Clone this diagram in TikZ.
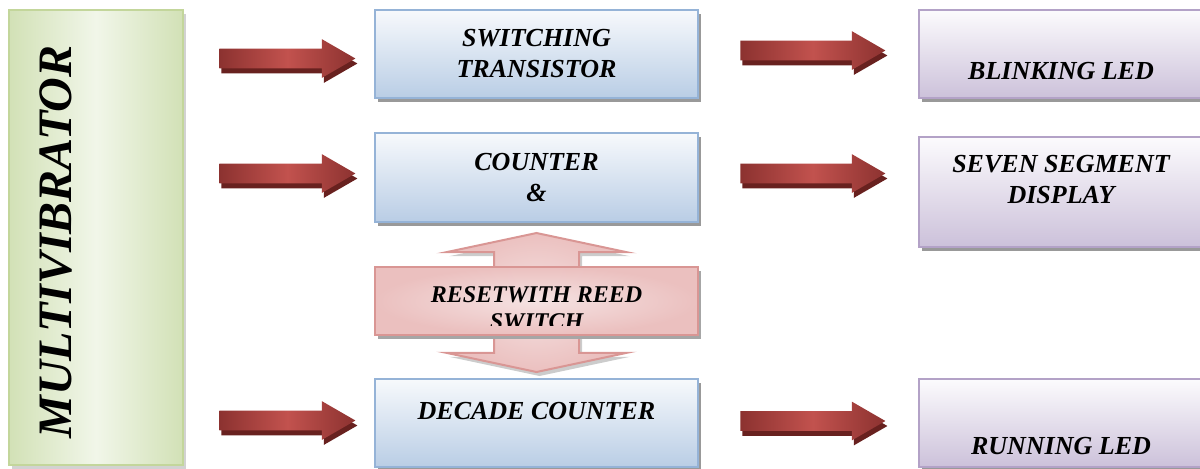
\documentclass[tikz,border=0pt]{standalone}
\usepackage{fontspec}
\setmainfont{Liberation Serif}
\usetikzlibrary{shapes.arrows,shadows}
\definecolor{blueedge}{RGB}{149,179,215}
\definecolor{bluetop}{RGB}{247,249,252}
\definecolor{bluebot}{RGB}{185,205,229}
\definecolor{lilacedge}{RGB}{179,162,199}
\definecolor{lilactop}{RGB}{252,251,253}
\definecolor{lilacbot}{RGB}{204,193,218}
\definecolor{greenedge}{RGB}{195,214,155}
\definecolor{greenlight}{RGB}{241,246,233}
\definecolor{greendark}{RGB}{210,225,182}
\definecolor{arrowdark}{RGB}{140,50,48}
\definecolor{arrowlight}{RGB}{194,82,78}
\definecolor{arrowshade}{RGB}{104,33,31}
\definecolor{pinkedge}{RGB}{217,150,148}
\definecolor{pinklight}{RGB}{245,226,226}
\definecolor{pinkdark}{RGB}{235,192,191}
\tikzset{
  boxshadow/.style={drop shadow={shadow xshift=1.5pt,shadow yshift=-2pt,fill=#1,opacity=1}},
  bluebox/.style={rectangle,draw=blueedge,line width=1pt,top color=bluetop,bottom color=bluebot,
    minimum width=161.5pt,boxshadow=gray!80},
  lilacbox/.style={rectangle,draw=lilacedge,line width=1pt,top color=lilactop,bottom color=lilacbot,
    minimum width=142pt,boxshadow=gray!80},
  greenbox/.style={rectangle,draw=greenedge,line width=1pt,left color=greendark,right color=greendark,
    middle color=greenlight,minimum width=87pt,minimum height=227.5pt,boxshadow=gray!35},
  boxtext/.style={font=\bfseries\itshape\fontsize{13}{15.5}\selectfont,align=center},
  fatarrow/.style={single arrow,single arrow head extend=4.75pt,single arrow tip angle=60,
    inner sep=0pt,inner ysep=4.75pt,minimum height=68pt,anchor=tail,
    left color=arrowdark,right color=arrowdark,middle color=arrowlight,
    drop shadow={shadow xshift=1pt,shadow yshift=-2.5pt,fill=arrowshade,opacity=1}},
}
\begin{document}
\begin{tikzpicture}[x=0.5pt,y=-0.5pt]
  \useasboundingbox (0,0) rectangle (1200,468);
  \clip (0,0) rectangle (1200,468);
  % multivibrator column
  \node (multi) at (96,237.5) [greenbox] {};
  \node (multitext) at (56,242) [rotate=90,font=\bfseries\itshape\fontsize{24}{28}\selectfont] {MULTIVIBRATOR};
  % middle column
  \node (switching) at (536.5,54) [bluebox,minimum height=44pt,boxtext] {SWITCHING\\TRANSISTOR};
  \node (counter) at (536.5,177.5) [bluebox,minimum height=44.5pt,boxtext] {COUNTER\\\&};
  \node (decade) at (536.5,423) [bluebox,minimum height=44pt] {};
  \node (decadetext) at ([yshift=6pt]decade.center) [boxtext] {DECADE COUNTER};
  % reset
  \node (resetarrow) at (536.5,302.5) [double arrow,shape border rotate=90,double arrow head extend=24pt,
    double arrow tip angle=156,inner sep=20.75pt,minimum height=69.5pt,draw=pinkedge,line width=1pt,
    inner color=pinklight,outer color=pinkdark,boxshadow=gray!40] {};
  \node (reset) at (536.5,301) [rectangle,draw=pinkedge,line width=1pt,inner color=pinklight,outer color=pinkdark,
    minimum width=161.5pt,minimum height=34pt,boxshadow=gray!70] {};
  \begin{scope}
    \clip (375,267) rectangle (698,325);
    \node (resettext) at (536.5,308) [font=\bfseries\itshape\fontsize{12}{13.5}\selectfont,align=center] {RESETWITH REED\\SWITCH};
  \end{scope}
  % right column
  \node (blinking) at (1061,54) [lilacbox,minimum height=44pt] {};
  \node (blinkingtext) at ([yshift=-8.75pt]blinking.center) [boxtext] {BLINKING LED};
  \node (seven) at (1061,192) [lilacbox,minimum height=55pt] {};
  \node (seventext) at ([yshift=6pt]seven.center) [boxtext] {SEVEN SEGMENT\\DISPLAY};
  \node (running) at (1061,423) [lilacbox,minimum height=44pt] {};
  \node (runningtext) at ([yshift=-11.75pt]running.center) [boxtext] {RUNNING LED};
  % block arrows
  \node (in1) at (219,58.5) [fatarrow] {};
  \node (in2) at (219,173.5) [fatarrow] {};
  \node (in3) at (219,420.5) [fatarrow] {};
  \node (out1) at (740,50.5) [fatarrow,minimum height=72.5pt] {};
  \node (out2) at (740,173.5) [fatarrow,minimum height=72.5pt] {};
  \node (out3) at (740,421) [fatarrow,minimum height=72.5pt] {};
\end{tikzpicture}
\end{document}
